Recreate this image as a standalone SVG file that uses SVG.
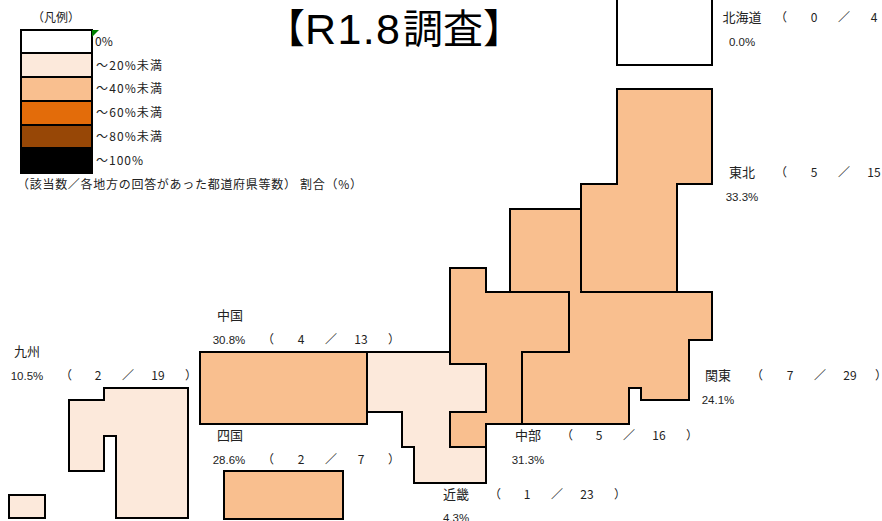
<svg xmlns="http://www.w3.org/2000/svg" width="882" height="521" viewBox="0 0 882 521">
<style>
text{font-family:"Noto Sans CJK JP","Liberation Sans",sans-serif;font-size:12px;fill:#222}
.c{text-anchor:middle}
.n{font-size:13px}
.r{stroke:#000;stroke-width:2;stroke-linejoin:miter}
.w{fill:#fff}.a{fill:#fce9db}.b{fill:#f9bf8f}.d{fill:#e36c0a}.e{fill:#974706}.f{fill:#000}
.p{font-size:11.5px;font-family:"Liberation Sans",sans-serif}
.t{font-size:40px;fill:#000}
</style>
<rect width="882" height="521" fill="#fff"/>
<g id="legend">
<text class="c" x="56" y="22">（凡例）</text>
<rect class="r w" x="21" y="30" width="71" height="23"/>
<rect class="r a" x="21" y="53" width="71" height="24"/>
<rect class="r b" x="21" y="77" width="71" height="24"/>
<rect class="r d" x="21" y="101" width="71" height="24"/>
<rect class="r e" x="21" y="125" width="71" height="23"/>
<rect class="r f" x="21" y="148" width="71" height="25"/>
<polygon points="92,30 99,30 92,37" fill="#008000"/>
<text x="95" y="46">0%</text>
<text x="96" y="70" textLength="66" lengthAdjust="spacing">～20%未満</text>
<text x="96" y="93" textLength="66" lengthAdjust="spacing">～40%未満</text>
<text x="96" y="117" textLength="66" lengthAdjust="spacing">～60%未満</text>
<text x="96" y="141" textLength="66" lengthAdjust="spacing">～80%未満</text>
<text x="96" y="165" textLength="47" lengthAdjust="spacing">～100%</text>
<text x="17" y="189" textLength="345" lengthAdjust="spacing">（該当数／各地方の回答があった都道府県等数） 割合（%）</text>
</g>
<g id="title">
<text class="t" x="265" y="43">【</text>
<text class="t" x="305" y="44" style="font-family:'Liberation Sans',sans-serif;font-size:43px" textLength="95" lengthAdjust="spacing">R1.8</text>
<text class="t" x="403" y="43">調査</text>
<text class="t" x="483" y="43">】</text>
</g>
<g id="hokkaido">
<rect class="r w" x="617" y="-3" width="95" height="68"/>
<text class="c n" x="742" y="22">北海道</text><text class="c" x="781" y="22">（</text><text class="c" x="814" y="22">0</text><text class="c" x="844" y="22">／</text><text class="c" x="874" y="22">4</text>
<text class="c p" x="742" y="46">0.0%</text>
</g>
<g id="tohoku">
<polygon class="b" points="617,89 712,89 712,184 677,184 677,292 510,292 510,209 581,209 581,184 617,184"/>
<path fill="none" stroke="#000" stroke-width="2" d="M510,292V209H581V291M581,209V184H617V89H712V184H677V292"/>
<text class="c n" x="742" y="177">東北</text><text class="c" x="781" y="177">（</text><text class="c" x="814" y="177">5</text><text class="c" x="844" y="177">／</text><text class="c" x="874" y="177">15</text>
<text class="c p" x="742" y="201">33.3%</text>
</g>
<g id="kinki">
<polygon class="r a" points="367,352 450,352 450,364 486,364 486,483 414,483 414,447 402,447 402,412 367,412"/>
<text class="c n" x="456" y="499">近畿</text><text class="c" x="495" y="499">（</text><text class="c" x="527" y="499">1</text><text class="c" x="557" y="499">／</text><text class="c" x="587" y="499">23</text><text class="c" x="620" y="499">）</text>
<text class="c p" x="456" y="522">4.3%</text>
</g>
<g id="chubu">
<polygon class="r b" points="450,268 486,268 486,292 569,292 569,352 522,352 522,424 486,424 486,447 450,447 450,412 486,412 486,364 450,364"/>
<text class="c n" x="528" y="440">中部</text><text class="c" x="567" y="440">（</text><text class="c" x="599" y="440">5</text><text class="c" x="629" y="440">／</text><text class="c" x="659" y="440">16</text><text class="c" x="692" y="440">）</text>
<text class="c p" x="528" y="464">31.3%</text>
</g>
<g id="kanto">
<polygon class="b" points="570,290 580,290 581,292 712,292 712,340 689,340 689,400 641,400 641,388 629,388 629,424 522,424 522,352 569,352"/>
<path fill="none" stroke="#000" stroke-width="2" d="M580,292H712V340H689V400H641V388H629V424H522V352H569V292"/>
<text class="c n" x="718" y="380">関東</text><text class="c" x="757" y="380">（</text><text class="c" x="790" y="380">7</text><text class="c" x="820" y="380">／</text><text class="c" x="850" y="380">29</text><text class="c" x="881" y="380">）</text>
<text class="c p" x="718" y="404">24.1%</text>
</g>
<g id="chugoku">
<rect class="r b" x="200" y="352" width="167" height="72"/>
<text class="c n" x="230" y="320">中国</text>
<text class="c p" x="229" y="344">30.8%</text><text class="c" x="268" y="344">（</text><text class="c" x="301" y="344">4</text><text class="c" x="331" y="344">／</text><text class="c" x="361" y="344">13</text><text class="c" x="394" y="344">）</text>
</g>
<g id="shikoku">
<rect class="r b" x="224" y="471" width="119" height="48"/>
<text class="c n" x="230" y="440">四国</text>
<text class="c p" x="229" y="464">28.6%</text><text class="c" x="268" y="464">（</text><text class="c" x="301" y="464">2</text><text class="c" x="331" y="464">／</text><text class="c" x="361" y="464">7</text><text class="c" x="394" y="464">）</text>
</g>
<g id="kyushu">
<polygon class="r a" points="104,388 188,388 188,518 116,518 116,436 104,436 104,471 69,471 69,400 104,400"/>
<rect class="r a" x="9" y="495" width="36" height="23"/>
<text class="c n" x="27" y="356">九州</text>
<text class="c p" x="27" y="380">10.5%</text><text class="c" x="66" y="380">（</text><text class="c" x="98" y="380">2</text><text class="c" x="128" y="380">／</text><text class="c" x="158" y="380">19</text><text class="c" x="191" y="380">）</text>
</g>
</svg>
